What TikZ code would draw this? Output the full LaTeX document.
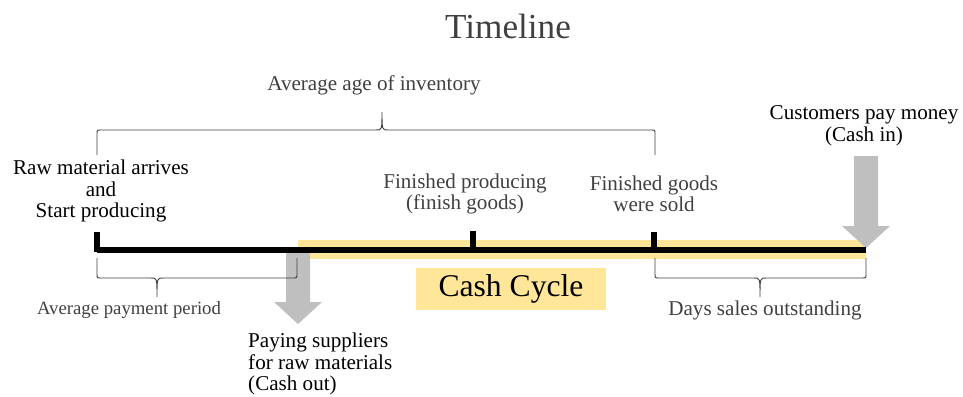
\documentclass[tikz,border=0pt]{standalone}
\usepackage{fontspec}
\setmainfont{Liberation Serif}
\definecolor{bandyellow}{HTML}{FFE699}
\definecolor{arrowgray}{HTML}{BFBFBF}
\definecolor{textgray}{HTML}{404040}
\begin{document}
\begin{tikzpicture}[x=0.03cm, y=-0.03cm]
  % Styles
  \tikzset{
    lbl/.style={font=\fontsize{18}{18.4}\selectfont, align=center, inner sep=0pt, text=black},
    glbl/.style={lbl, text=textgray},
    axe/.style={line width=4.3pt, black},
    tickmark/.style={line width=4.3pt, black},
    brc/.style={line width=0.8pt, textgray},
    blockarrow/.style={fill=arrowgray},
  }
  \useasboundingbox (0,0) rectangle (963,396);

  % Points of the timeline
  \coordinate (start) at (97,250);
  \coordinate (pay) at (298,250);
  \coordinate (fin) at (473,250);
  \coordinate (sold) at (654,250);
  \coordinate (cashin) at (866,250);

  % Cash cycle band
  \fill[bandyellow] (298,240) rectangle (866,259);

  % Cash flow arrows (tip x / tip y / length)
  \foreach \tx/\ty/\len in {298/324/74, 866/248/92}{
    \fill[blockarrow] (\tx,\ty) -- ++(-24,-22) -- ++(12,0) -- ++(0,{-(\len-22)})
      -- ++(24,0) -- ++(0,{\len-22}) -- ++(12,0) -- cycle;
  }

  % Timeline and ticks
  \draw[axe] (start) -- (cashin);
  \foreach \x/\t in {97/232, 473/231, 654/232}
    \draw[tickmark] (\x,\t) -- (\x,252);

  % Braces (left / right / middle / end y / bar y / tip y / side)
  \foreach \a/\b/\m/\ye/\yh/\yt/\d in {
    97/655/382/155/130/112/1,
    97/297/157/258/278/297/-1,
    655/866/760/258/278/297/-1
  }{
    \draw[brc] (\a,\ye) -- (\a,{\yh+4*\d}) .. controls (\a,\yh) .. (\a+4,\yh)
      -- (\m-6,\yh) .. controls (\m,\yh) .. (\m,\yt)
      .. controls (\m,\yh) .. (\m+6,\yh)
      -- (\b-4,\yh) .. controls (\b,\yh) .. (\b,{\yh+4*\d}) -- (\b,\ye);
  }

  % Labels
  \node[glbl, font=\fontsize{30}{30}\selectfont] (title) at (508,26) {Timeline};
  \node[glbl] (ageinv) at (374,85) {Average age of inventory};
  \node[lbl] (rawmat) at (101,191) {Raw material arrives\\and\\Start producing};
  \node[glbl] (finprod) at (465,194) {Finished producing\\(finish goods)};
  \node[glbl] (finsold) at (654,194) {Finished goods\\were sold};
  \node[lbl] (custpay) at (864,126) {Customers pay money\\(Cash in)};
  \node[glbl, font=\fontsize{16}{16.4}\selectfont] (avgpay) at (129,310) {Average payment period};
  \node[glbl] (dso) at (765,310) {Days sales outstanding};
  \node[lbl, anchor=west, align=left] (paysup) at (248,364)
    {Paying suppliers\\for raw materials\\(Cash out)};
  \node[lbl, fill=bandyellow, minimum width=5.7cm, minimum height=1.26cm,
    font=\fontsize{27}{27}\selectfont] (cashcycle) at (511,289) {Cash Cycle};

\end{tikzpicture}
\end{document}
